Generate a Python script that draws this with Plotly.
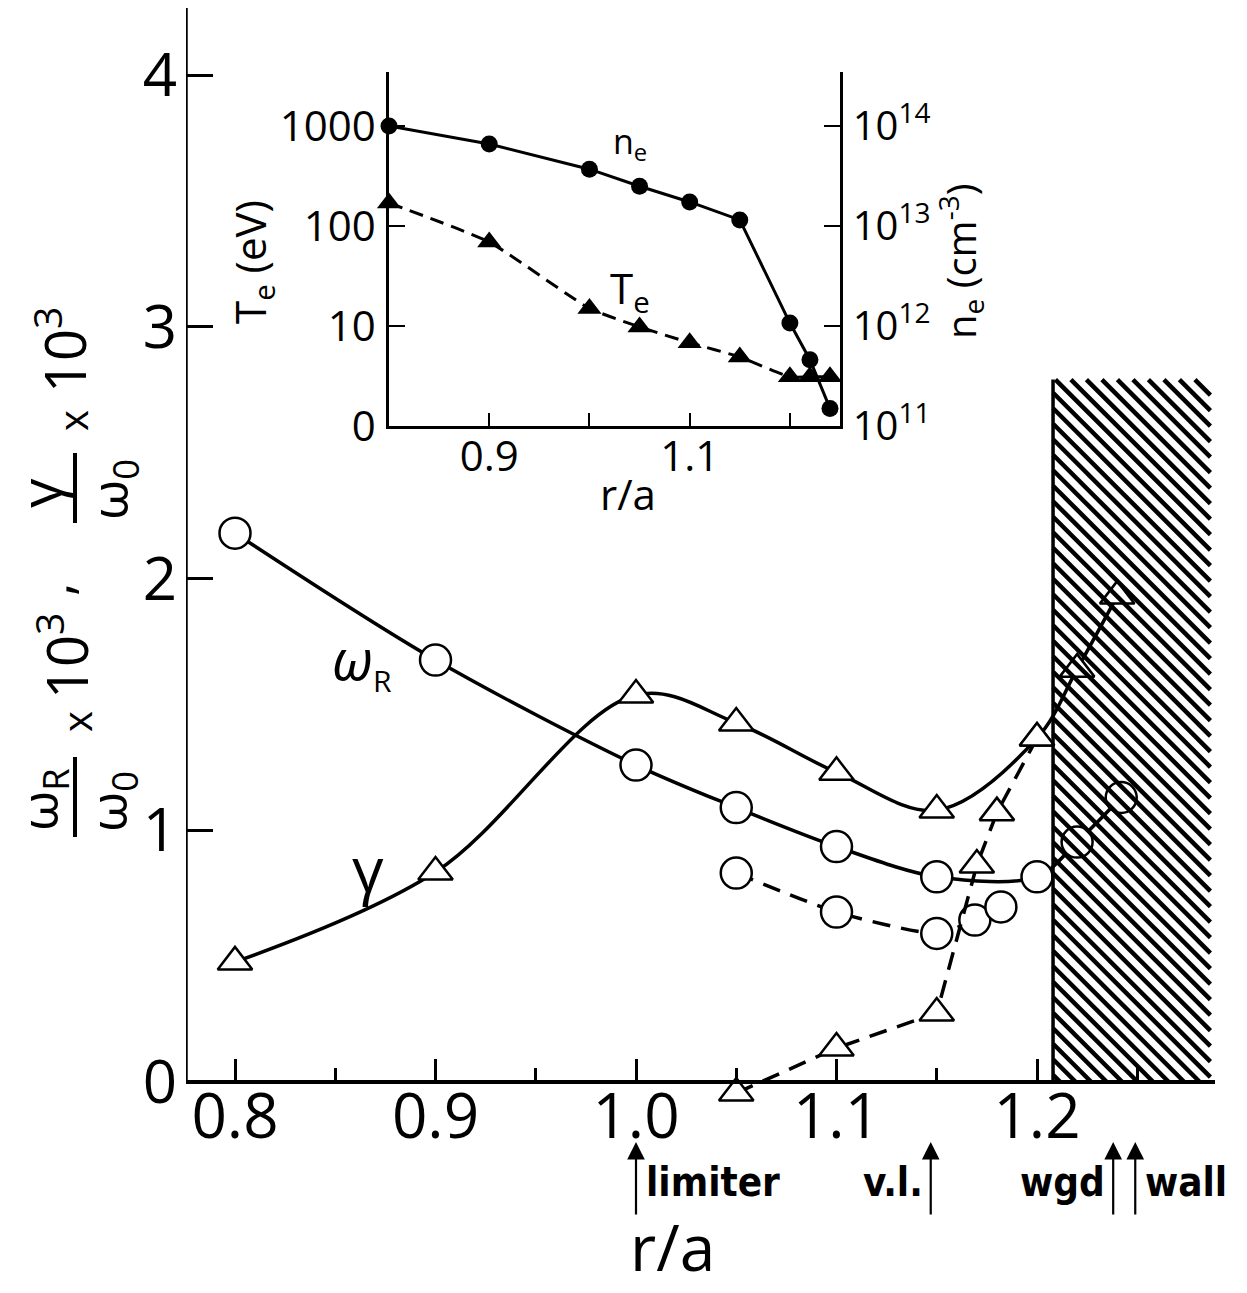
import plotly.graph_objects as go

W, H = 1247, 1293

# ---------------- data ----------------
# main panel: omega_R / omega_0 x 10^3  (open circles)
r_wR_solid = [0.80, 0.90, 1.00, 1.05, 1.10, 1.15, 1.20, 1.22, 1.242]
wR_solid = [2.18, 1.676, 1.259, 1.09, 0.935, 0.815, 0.815, 0.953, 1.13]
r_wR_dash = [1.05, 1.10, 1.15, 1.169, 1.182]
wR_dash = [0.83, 0.675, 0.59, 0.643, 0.695]

# main panel: gamma / omega_0 x 10^3  (open triangles)
r_g_solid = [0.80, 0.90, 1.00, 1.05, 1.10, 1.15, 1.20, 1.22, 1.24]
g_solid = [0.477, 0.834, 1.537, 1.426, 1.23, 1.08, 1.366, 1.64, 1.93]
r_g_dash = [1.05, 1.10, 1.15, 1.17, 1.18, 1.20]
g_dash = [-0.044, 0.135, 0.274, 0.862, 1.07, 1.366]

# wall region (hatched) : r/a from .. to, height
wall_r = [1.208, 1.2865]
wall_top = 2.79

# position markers under the axis
mark_labels = ["limiter", "v.l.", "wgd", "wall"]
mark_r = [1.0, 1.147, 1.238, 1.249]

# main axis ticks
main_xticks = [0.8, 0.9, 1.0, 1.1, 1.2]
main_xticktext = ["0.8", "0.9", "1.0", "1.1", "1.2"]
main_xminor = [0.85, 0.95, 1.05, 1.15, 1.25]
main_yticks = [0, 1, 2, 3, 4]
main_yticktext = ["0", "1", "2", "3", "4"]

# inset: profiles
r_inset = [0.80, 0.90, 1.00, 1.05, 1.10, 1.15, 1.20, 1.22, 1.24]
ne_inset = [1.0e14, 6.6e13, 3.7e13, 2.5e13, 1.74e13, 1.15e13, 1.07e12, 4.6e11, 1.5e11]
Te_inset = [170, 69, 15, 9.8, 6.8, 4.9, 3.1, 3.1, 3.1]

inset_xticks = [0.9, 1.0, 1.1, 1.2]
inset_xticktext = ["0.9", " ", "1.1", " "]
Te_ticks = [1, 10, 100, 1000]
Te_ticktext = ["0", "10", "100", "1000"]
ne_ticks = [1e11, 1e12, 1e13, 1e14]
ne_ticktext = ["10<sup>11</sup>", "10<sup>12</sup>", "10<sup>13</sup>", "10<sup>14</sup>"]

# ---------------- helpers ----------------
def px(x):
    return x / W


def py(y):
    return 1 - y / H


FONT = "Open Sans, DejaVu Sans, sans-serif"
BOLDFONT = "Liberation Sans Narrow, DejaVu Sans Condensed, Open Sans, sans-serif"
BLACK = "black"

# main axes geometry (pixels)
X0PIX, X1PIX = 186, 1215
Y0PIX, YTOPPIX = 1082, 8
XSCALE = 2005.0      # px per unit r/a
YSCALE = 251.75      # px per unit of y
x_lo = 0.8 - (235 - X0PIX) / XSCALE
x_hi = x_lo + (X1PIX - X0PIX) / XSCALE
y_lo = -0.15
y_hi = (Y0PIX - YTOPPIX) / YSCALE
YBOTPIX = Y0PIX - y_lo * YSCALE


def to_r(xpix):
    return x_lo + (xpix - X0PIX) / XSCALE


def to_v(ypix):
    return (Y0PIX - ypix) / YSCALE


fig = go.Figure()

# ---------------- main traces ----------------
fig.add_trace(go.Scatter(
    x=r_wR_dash, y=wR_dash, mode="lines+markers",
    line=dict(color=BLACK, width=3.5, dash="18px,11px", shape="spline", smoothing=0.6),
    marker=dict(symbol="circle", size=31, color="white", line=dict(color=BLACK, width=2.5)),
    cliponaxis=False, showlegend=False))
fig.add_trace(go.Scatter(
    x=r_g_dash, y=g_dash, mode="lines+markers",
    line=dict(color=BLACK, width=3.5, dash="18px,11px"),
    marker=dict(symbol="triangle-up", size=30, color="white", line=dict(color=BLACK, width=2.5)),
    cliponaxis=False, showlegend=False))
fig.add_trace(go.Scatter(
    x=r_wR_solid, y=wR_solid, mode="lines+markers",
    line=dict(color=BLACK, width=3.5, shape="spline", smoothing=0.9),
    marker=dict(symbol="circle", size=31, color="white", line=dict(color=BLACK, width=2.5)),
    cliponaxis=False, showlegend=False))
fig.add_trace(go.Scatter(
    x=r_g_solid, y=g_solid, mode="lines+markers",
    line=dict(color=BLACK, width=3.5, shape="spline", smoothing=1.0),
    marker=dict(symbol="triangle-up", size=30, color="white", line=dict(color=BLACK, width=2.5)),
    cliponaxis=False, showlegend=False))

# hatched wall region: diagonal strokes computed from the region bounds
xL = X0PIX + (wall_r[0] - x_lo) * XSCALE
xR = X0PIX + (wall_r[1] - x_lo) * XSCALE
yT = Y0PIX - wall_top * YSCALE
yB = float(Y0PIX)
SPACING, SLOPE = 15.5, 1.0
hx, hy = [], []
c = yT - SLOPE * (xR - xL)
while c < yB:
    # line: y = c + SLOPE*(x - xL), clipped to the rectangle
    xa = max(xL, xL + (yT - c) / SLOPE)
    xb = min(xR, xL + (yB - c) / SLOPE)
    if xb > xa:
        hx += [to_r(xa), to_r(xb), None]
        hy += [to_v(c + SLOPE * (xa - xL)), to_v(c + SLOPE * (xb - xL)), None]
    c += SPACING
fig.add_trace(go.Scatter(x=hx, y=hy, mode="lines", line=dict(color=BLACK, width=4.5),
                         hoverinfo="skip", showlegend=False))
fig.add_shape(type="line", xref="x", yref="y", x0=wall_r[0], x1=wall_r[0],
              y0=0, y1=wall_top, line=dict(color=BLACK, width=3.5))
# main y-axis line (from 0 upward only)
fig.add_shape(type="line", xref="x", yref="y", x0=x_lo, x1=x_lo,
              y0=0, y1=y_hi, line=dict(color=BLACK, width=3.5))

# ---------------- inset traces ----------------
fig.add_trace(go.Scatter(
    x=r_inset, y=Te_inset, xaxis="x2", yaxis="y2", mode="lines+markers",
    line=dict(color=BLACK, width=3, dash="14px,8px", shape="spline", smoothing=0.5),
    marker=dict(symbol="triangle-up", size=21, color=BLACK),
    cliponaxis=False, showlegend=False))
fig.add_trace(go.Scatter(
    x=r_inset, y=ne_inset, xaxis="x2", yaxis="y3", mode="lines+markers",
    line=dict(color=BLACK, width=3),
    marker=dict(symbol="circle", size=17, color=BLACK),
    cliponaxis=False, showlegend=False))

# ---------------- axes ----------------
common = dict(showgrid=False, zeroline=False, automargin=False)
fig.update_layout(
    template="none",
    width=W, height=H, autosize=False, showlegend=False,
    margin=dict(l=0, r=0, t=0, b=0, pad=0),
    paper_bgcolor="white", plot_bgcolor="rgba(0,0,0,0)",
    font=dict(family=FONT, color=BLACK),
    xaxis=dict(domain=[px(X0PIX), px(X1PIX)], range=[x_lo, x_hi],
               anchor="free", position=py(Y0PIX),
               showline=True, linecolor=BLACK, linewidth=3.5,
               tickmode="array", tickvals=main_xticks, ticktext=main_xticktext,
               ticks="inside", ticklen=21, tickwidth=2.5, tickcolor=BLACK,
               ticklabelstandoff=-20,
               minor=dict(ticks="inside", ticklen=12, tickwidth=2.5, tickcolor=BLACK,
                          tickmode="array", tickvals=main_xminor),
               tickfont=dict(family=FONT, size=62, color=BLACK), **common),
    yaxis=dict(domain=[py(YBOTPIX), py(YTOPPIX)], range=[y_lo, y_hi], anchor="x",
               showline=False,
               tickmode="array", tickvals=main_yticks, ticktext=main_yticktext,
               ticks="inside", ticklen=27, tickwidth=2.5, tickcolor=BLACK,
               ticklabelstandoff=8,
               tickfont=dict(family=FONT, size=60, color=BLACK), **common),
    xaxis2=dict(domain=[px(389), px(840)], range=[0.8, 1.25], anchor="y2",
                showline=True, linecolor=BLACK, linewidth=2.5,
                tickmode="array", tickvals=inset_xticks, ticktext=inset_xticktext,
                ticks="inside", ticklen=13, tickwidth=2, tickcolor=BLACK,
                ticklabelstandoff=-8,
                tickfont=dict(family=FONT, size=42, color=BLACK), **common),
    yaxis2=dict(domain=[py(426), py(72)], type="log", range=[0, 3.54], anchor="x2",
                showline=True, linecolor=BLACK, linewidth=2.5,
                tickmode="array", tickvals=Te_ticks, ticktext=Te_ticktext,
                ticks="inside", ticklen=16, tickwidth=2, tickcolor=BLACK,
                ticklabelstandoff=2,
                tickfont=dict(family=FONT, size=42, color=BLACK), **common),
    yaxis3=dict(type="log", range=[11, 14.54], anchor="x2", overlaying="y2", side="right",
                showline=True, linecolor=BLACK, linewidth=2.5,
                tickmode="array", tickvals=ne_ticks, ticktext=ne_ticktext,
                ticks="inside", ticklen=16, tickwidth=2, tickcolor=BLACK,
                ticklabelstandoff=2,
                tickfont=dict(family=FONT, size=40, color=BLACK), **common),
)

ann = []


def text(x, y, t, size, angle=0, family=FONT, xanchor="center", yanchor="middle"):
    ann.append(dict(x=px(x), y=py(y), xref="paper", yref="paper", text=t,
                    showarrow=False, textangle=angle, xanchor=xanchor, yanchor=yanchor,
                    font=dict(family=family, size=size, color=BLACK)))


# main axis title (box bottom sits at the figure's lower edge)
text(672, 1292, "r/a", 64, yanchor="bottom")

# main y title (rotated, built from pieces)
text(41, 800, "ω<sub>R</sub>", 52, -90)
text(110, 802, "ω<sub>0</sub>", 52, -90)
text(76, 722, "x", 40, -90)
text(63, 656, "10<sup>3</sup>", 56, -90)
text(52, 590, ",", 52, -90)
text(39, 493, "γ", 58, -90)
text(111, 490, "ω<sub>0</sub>", 52, -90)
text(72, 421, "x", 40, -90)
text(61, 350, "10<sup>3</sup>", 56, -90)
for y0, y1 in [(757, 837), (453, 523)]:
    fig.add_shape(type="line", xref="paper", yref="paper", x0=px(75), x1=px(75),
                  y0=py(y0), y1=py(y1), line=dict(color=BLACK, width=4))

# curve labels
text(362, 660, "<i>ω</i><sub><span style='font-size:30px'>R</span></sub>", 56)
text(368, 868, "γ", 62)

# inset labels
text(252, 262, "T<sub>e</sub> (eV)", 42, -90)
text(960, 262, "n<sub>e</sub> (cm<sup>-3</sup>)", 40, -90)
text(628, 494, "r/a", 42)
text(630, 143, "n<sub>e</sub>", 34)
text(630, 290, "T<sub>e</sub>", 42)

# position markers below axis
align = ["left", "right", "right", "left"]
for lab, r, al in zip(mark_labels, mark_r, align):
    ann.append(dict(x=r, y=py(1142), xref="x", yref="paper", text="", showarrow=True,
                    ax=0, ay=74, axref="pixel", ayref="pixel",
                    arrowhead=2, arrowsize=1.6, arrowwidth=2.2, arrowcolor=BLACK))
    xpix = X0PIX + (r - x_lo) * XSCALE
    if al == "left":
        text(xpix + 8, 1182, "<b>" + lab + "</b>", 40, family=BOLDFONT, xanchor="left")
    else:
        text(xpix - 6, 1182, "<b>" + lab + "</b>", 40, family=BOLDFONT, xanchor="right")

fig.update_layout(annotations=ann)

fig.write_html("out.html", config={"responsive": False})
